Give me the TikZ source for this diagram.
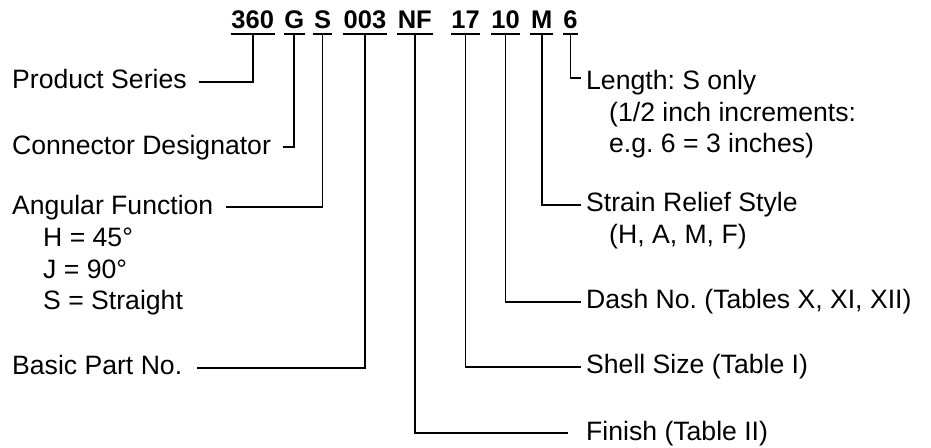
\documentclass[tikz,border=0pt]{standalone}
\usepackage{fontspec}
\setmainfont{Liberation Sans}
\usepackage{tikz}
\usetikzlibrary{positioning}
\frenchspacing

\tikzset{
        code/.style={font=\fontsize{25.5}{30}\selectfont\bfseries, inner xsep=0.5pt, inner ysep=0pt, text depth=0pt, anchor=base},
        lbl/.style={font=\fontsize{26.6}{31.5}\selectfont, inner ysep=0pt, text height=19pt, text depth=5.3pt, anchor=west},
        lleft/.style={lbl, inner xsep=12pt},
        lright/.style={lbl, inner xsep=5pt},
        sub/.style={font=\fontsize{26.6}{31.5}\selectfont, inner sep=0pt, align=left, anchor=north west},
        lead/.style={line width=1.9pt}
}

\begin{document}
\begin{tikzpicture}[x=1pt, y=-1pt]
        \useasboundingbox (0,0) rectangle (931,447);

        % part number
        \node[code] (c360) at (252.7,28.3) {360};
        \node[code] (cG)   at (294.3,28.3) {G};
        \node[code] (cS)   at (322.5,28.3) {S};
        \node[code] (c003) at (365,28.3) {003};
        \node[code] (cNF)  at (414.8,28.3) {NF};
        \node[code] (c17)  at (465.5,28.3) {17};
        \node[code] (c10)  at (505.5,28.3) {10};
        \node[code] (cM)   at (541.7,28.3) {M};
        \node[code] (c6)   at (570.5,28.3) {6};

        \foreach \c in {c360, cG, cS, c003, cNF, c17, c10, cM, c6}{
                \draw[lead] ([yshift=-5.7pt]\c.south west) -- ([yshift=-5.7pt]\c.south east);
        }

        % left side
        \node[lleft] (series)     at (0,81.7)  {Product Series};
        \node[lleft] (designator) at (0,147.3) {Connector Designator};
        \node[lleft] (angular)    at (0,207.3) {Angular Function};
        \node[sub]   (angles)     at (43,228) {H = 45°\\J = 90°\\S = Straight};
        \node[lleft, inner xsep=15pt] (basic) at (-3,368) {Basic Part No.};

        % right side
        \node[lright] (length) at (581,83) {Length: S only};
        \node[sub]    (steps)  at (609,102) {(1/2 inch increments:\\e.g. 6 = 3 inches)};
        \node[lright] (strain) at (581,205) {Strain Relief Style};
        \node[sub]    (styles) at (609,224.5) {(H, A, M, F)};
        \node[lright] (dash)   at (581,301.7) {Dash No. (Tables X, XI, XII)};
        \node[lright] (shell)  at (581,366.7) {Shell Size (Table I)};
        \node[lright, inner xsep=18pt] (finish) at (568,433.3) {Finish (Table II)};

        \draw[lead] ([yshift=-5.7pt]c360.south) |- (series.east);
        \draw[lead] ([yshift=-5.7pt]cG.south) |- (designator.east);
        \draw[lead] ([yshift=-5.7pt]cS.south) |- (angular.east);
        \draw[lead] ([yshift=-5.7pt]c003.south) |- (basic.east);
        \draw[lead] ([yshift=-5.7pt]cNF.south) |- (finish.west);
        \draw[lead] ([yshift=-5.7pt]c17.south) |- (shell.west);
        \draw[lead] ([yshift=-5.7pt]c10.south) |- (dash.west);
        \draw[lead] ([yshift=-5.7pt]cM.south) |- (strain.west);
        \draw[lead] ([yshift=-5.7pt]c6.south) |- ([yshift=5pt]length.west);

    \end{tikzpicture}
\end{document}
